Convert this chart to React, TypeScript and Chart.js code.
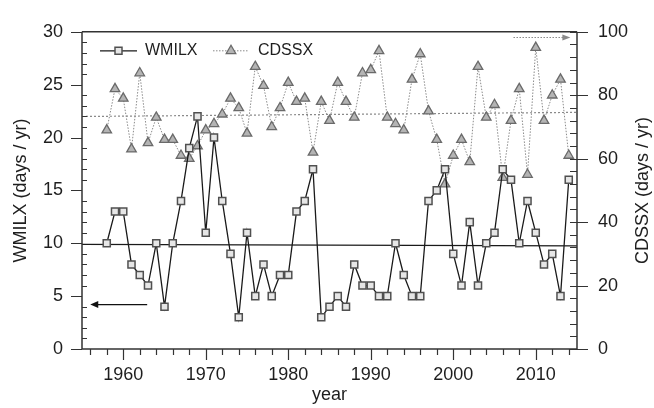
import React, { useEffect, useRef } from 'react';
import { Chart, registerables } from 'chart.js';

Chart.register(...registerables);

// ---------- data ----------
const years = [
  1958, 1959, 1960, 1961, 1962, 1963, 1964, 1965, 1966, 1967,
  1968, 1969, 1970, 1971, 1972, 1973, 1974, 1975, 1976, 1977,
  1978, 1979, 1980, 1981, 1982, 1983, 1984, 1985, 1986, 1987,
  1988, 1989, 1990, 1991, 1992, 1993, 1994, 1995, 1996, 1997,
  1998, 1999, 2000, 2001, 2002, 2003, 2004, 2005, 2006, 2007,
  2008, 2009, 2010, 2011, 2012, 2013, 2014,
];
const wmilx = [
  10, 13, 13, 8, 7, 6, 10, 4, 10, 14,
  19, 22, 11, 20, 14, 9, 3, 11, 5, 8,
  5, 7, 7, 13, 14, 17, 3, 4, 5, 4,
  8, 6, 6, 5, 5, 10, 7, 5, 5, 14,
  15, 17, 9, 6, 12, 6, 10, 11, 17, 16,
  10, 14, 11, 8, 9, 5, 16,
];
const cdssx = [
  69, 82, 79, 63, 87, 65, 73, 66, 66, 61,
  60, 64, 69, 71, 74, 79, 76, 68, 89, 83,
  70, 76, 84, 78, 79, 62, 78, 72, 84, 78,
  73, 87, 88, 94, 73, 71, 69, 85, 93, 75,
  66, 52, 61, 66, 59, 89, 73, 77, 54, 72,
  82, 55, 95, 72, 80, 85, 61,
];
const trendYears = [1955, 2015];
const wmilxTrend = [9.9, 9.75];
const cdssxTrend = [73.3, 74.6];

const xTickLabels = [1960, 1970, 1980, 1990, 2000, 2010];
const leftTickLabels = [0, 5, 10, 15, 20, 25, 30];
const rightTickLabels = [0, 20, 40, 60, 80, 100];

const seriesNames = ['WMILX', 'CDSSX'];
const axisTitles = { x: 'year', left: 'WMILX (days / yr)', right: 'CDSSX (days / yr)' };

// arrows pointing to the axis each series belongs to (data space)
const leftArrow = { fromYear: 1962.9, toYear: 1956.0, value: 4.2 };
const rightArrow = { fromYear: 2007.3, toYear: 2014.2, value: 98.2 };

// ---------- styles ----------
const FONT = '"Liberation Sans", Arial, Helvetica, sans-serif';
const TEXT = '#1e1e1e';
const AXIS = '#333333';
const LINE_W = '#1a1a1a';
const LINE_C = '#8a8a8a';
const SQ_EDGE = '#505050';
const SQ_FILL = '#e6e6e6';
const TR_EDGE = '#6a6a6a';
const TR_FILL = '#b4b4b4';

function drawSquare(ctx: CanvasRenderingContext2D, x: number, y: number) {
  ctx.save();
  ctx.fillStyle = SQ_FILL;
  ctx.strokeStyle = SQ_EDGE;
  ctx.lineWidth = 1.5;
  ctx.setLineDash([]);
  ctx.beginPath();
  ctx.rect(x - 3.5, y - 3.5, 7, 7);
  ctx.fill();
  ctx.stroke();
  ctx.restore();
}
function drawTriangle(ctx: CanvasRenderingContext2D, x: number, y: number) {
  const r = 5.5;
  ctx.save();
  ctx.fillStyle = TR_FILL;
  ctx.strokeStyle = TR_EDGE;
  ctx.lineWidth = 1.3;
  ctx.setLineDash([]);
  ctx.beginPath();
  ctx.moveTo(x, y - r);
  ctx.lineTo(x + r * 0.866, y + r / 2);
  ctx.lineTo(x - r * 0.866, y + r / 2);
  ctx.closePath();
  ctx.fill();
  ctx.stroke();
  ctx.restore();
}

const framePlugin = {
  id: 'frame',
  afterDraw(chart: any) {
    const { ctx, chartArea: a, scales } = chart;
    const xs = scales.x;
    const yl = scales.y;
    const yr = scales.y1;
    ctx.save();
    ctx.strokeStyle = AXIS;
    ctx.lineWidth = 1.5;
    ctx.setLineDash([]);
    // frame
    ctx.beginPath();
    ctx.moveTo(a.left, a.top);
    ctx.lineTo(a.right, a.top);
    ctx.moveTo(a.left, a.top);
    ctx.lineTo(a.left, a.bottom);
    ctx.moveTo(a.right, a.top);
    ctx.lineTo(a.right, a.bottom);
    ctx.moveTo(a.left, a.bottom);
    ctx.lineTo(a.right, a.bottom);
    ctx.stroke();

    ctx.lineWidth = 1.2;
    ctx.beginPath();
    // left axis: minor every 1 inward, major every 5 outward
    for (let v = 0; v <= 30; v++) {
      const y = Math.round(yl.getPixelForValue(v)) + 0.5;
      if (v % 5 === 0) {
        ctx.moveTo(a.left - 11, y);
        ctx.lineTo(a.left, y);
      } else {
        ctx.moveTo(a.left, y);
        ctx.lineTo(a.left + 5, y);
      }
    }
    // right axis: minor every 4 inward, major every 20 outward
    for (let v = 0; v <= 100; v += 4) {
      const y = Math.round(yr.getPixelForValue(v)) + 0.5;
      ctx.moveTo(a.right - 7, y);
      ctx.lineTo(a.right, y);
    }
    for (let v = 0; v <= 100; v += 20) {
      const y = Math.round(yr.getPixelForValue(v)) + 0.5;
      ctx.moveTo(a.right, y);
      ctx.lineTo(a.right + 11, y);
    }
    // x axis: minor every 2 years, major every 10, both outward
    for (let yv = 1956; yv <= 2014; yv += 2) {
      const x = Math.round(xs.getPixelForValue(yv)) + 0.5;
      const len = yv % 10 === 0 ? 11 : 6;
      ctx.moveTo(x, a.bottom);
      ctx.lineTo(x, a.bottom + len);
    }
    ctx.stroke();

    // left arrow (solid)
    {
      const y = yl.getPixelForValue(leftArrow.value);
      const x0 = xs.getPixelForValue(leftArrow.fromYear);
      const x1 = xs.getPixelForValue(leftArrow.toYear);
      ctx.strokeStyle = '#111';
      ctx.fillStyle = '#111';
      ctx.lineWidth = 1.2;
      ctx.beginPath();
      ctx.moveTo(x0, y);
      ctx.lineTo(x1 + 6, y);
      ctx.stroke();
      ctx.beginPath();
      ctx.moveTo(x1, y);
      ctx.lineTo(x1 + 8, y - 3.5);
      ctx.lineTo(x1 + 8, y + 3.5);
      ctx.closePath();
      ctx.fill();
    }
    // right arrow (dotted)
    {
      const y = yr.getPixelForValue(rightArrow.value);
      const x0 = xs.getPixelForValue(rightArrow.fromYear);
      const x1 = xs.getPixelForValue(rightArrow.toYear);
      ctx.strokeStyle = LINE_C;
      ctx.fillStyle = LINE_C;
      ctx.lineWidth = 1.2;
      ctx.setLineDash([1.5, 1.5]);
      ctx.beginPath();
      ctx.moveTo(x0, y);
      ctx.lineTo(x1 - 6, y);
      ctx.stroke();
      ctx.setLineDash([]);
      ctx.beginPath();
      ctx.moveTo(x1, y);
      ctx.lineTo(x1 - 8, y - 3);
      ctx.lineTo(x1 - 8, y + 3);
      ctx.closePath();
      ctx.fill();
    }

    // legend
    {
      const ly = a.top + 19;
      const lx = a.left + 18;
      ctx.strokeStyle = LINE_W;
      ctx.lineWidth = 1.3;
      ctx.setLineDash([]);
      ctx.beginPath();
      ctx.moveTo(lx, ly);
      ctx.lineTo(lx + 37, ly);
      ctx.stroke();
      drawSquare(ctx, lx + 18.5, ly);
      ctx.fillStyle = TEXT;
      ctx.font = '16px ' + FONT;
      ctx.textAlign = 'left';
      ctx.textBaseline = 'middle';
      ctx.fillText(seriesNames[0], lx + 45, ly);

      const lx2 = lx + 113;
      ctx.strokeStyle = LINE_C;
      ctx.lineWidth = 1;
      ctx.setLineDash([1.5, 1.5]);
      ctx.beginPath();
      ctx.moveTo(lx2, ly);
      ctx.lineTo(lx2 + 36, ly);
      ctx.stroke();
      ctx.setLineDash([]);
      drawTriangle(ctx, lx2 + 18, ly);
      ctx.fillStyle = TEXT;
      ctx.fillText(seriesNames[1], lx2 + 45, ly);
    }

    // right axis title (reads bottom to top)
    ctx.save();
    ctx.translate(643, (a.top + a.bottom) / 2);
    ctx.rotate(-Math.PI / 2);
    ctx.fillStyle = TEXT;
    ctx.font = '18px ' + FONT;
    ctx.textAlign = 'center';
    ctx.textBaseline = 'middle';
    ctx.fillText(axisTitles.right, 0, 0);
    ctx.restore();

    ctx.restore();
  },
};

export default function App() {
  const ref = useRef<HTMLCanvasElement | null>(null);

  useEffect(() => {
    if (!ref.current) return;
    Chart.defaults.font.family = FONT;
    Chart.defaults.font.size = 18;
    Chart.defaults.color = TEXT;

    const chart = new Chart(ref.current, {
      type: 'line',
      data: {
        datasets: [
          {
            label: seriesNames[0],
            data: years.map((y, i) => ({ x: y, y: wmilx[i] })),
            yAxisID: 'y',
            borderColor: LINE_W,
            borderWidth: 1.3,
            pointStyle: 'rect',
            pointRadius: 5,
            pointBorderColor: SQ_EDGE,
            pointBackgroundColor: SQ_FILL,
            pointBorderWidth: 1.5,
            tension: 0,
          },
          {
            label: seriesNames[1],
            data: years.map((y, i) => ({ x: y, y: cdssx[i] })),
            yAxisID: 'y1',
            borderColor: LINE_C,
            borderWidth: 1,
            borderDash: [1.5, 1.5],
            pointStyle: 'triangle',
            pointRadius: 5.5,
            pointBorderColor: TR_EDGE,
            pointBackgroundColor: TR_FILL,
            pointBorderWidth: 1.3,
            tension: 0,
          },
          {
            label: seriesNames[0] + ' trend',
            data: trendYears.map((y, i) => ({ x: y, y: wmilxTrend[i] })),
            yAxisID: 'y',
            borderColor: LINE_W,
            borderWidth: 1.2,
            pointRadius: 0,
          },
          {
            label: seriesNames[1] + ' trend',
            data: trendYears.map((y, i) => ({ x: y, y: cdssxTrend[i] })),
            yAxisID: 'y1',
            borderColor: LINE_C,
            borderWidth: 1.2,
            borderDash: [2, 2],
            pointRadius: 0,
          },
        ],
      },
      options: {
        responsive: false,
        animation: false,
        devicePixelRatio: 1,
        layout: { padding: { top: 19, left: 0, right: 0, bottom: 0 } },
        plugins: {
          legend: { display: false },
          tooltip: { enabled: false },
        },
        scales: {
          x: {
            type: 'linear',
            min: 1955,
            max: 2015,
            grid: { display: false, drawTicks: false },
            border: { display: false },
            afterBuildTicks: (s: any) => {
              s.ticks = xTickLabels.map((v) => ({ value: v }));
            },
            afterFit: (s: any) => {
              s.height = 59;
            },
            ticks: {
              padding: 15,
              maxRotation: 0,
              autoSkip: false,
              callback: (v: any) => String(v),
              font: { size: 18 },
              color: TEXT,
            },
            title: {
              display: true,
              text: axisTitles.x,
              font: { size: 18 },
              color: TEXT,
              padding: { top: 0, bottom: 2 },
            },
          },
          y: {
            type: 'linear',
            position: 'left',
            min: 0,
            max: 30,
            grid: { display: false, drawTicks: false },
            border: { display: false },
            afterBuildTicks: (s: any) => {
              s.ticks = leftTickLabels.map((v) => ({ value: v }));
            },
            afterFit: (s: any) => {
              s.width = 82;
            },
            ticks: { padding: 19, font: { size: 18 }, color: TEXT },
            title: {
              display: true,
              text: axisTitles.left,
              font: { size: 18 },
              color: TEXT,
              padding: { top: 10.5, bottom: 0 },
            },
          },
          y1: {
            type: 'linear',
            position: 'right',
            min: 0,
            max: 100,
            grid: { display: false, drawTicks: false },
            border: { display: false },
            afterBuildTicks: (s: any) => {
              s.ticks = rightTickLabels.map((v) => ({ value: v }));
            },
            afterFit: (s: any) => {
              s.width = 77;
            },
            ticks: { padding: 21, font: { size: 18 }, color: TEXT },
          },
        },
      },
      plugins: [framePlugin],
    });
    return () => chart.destroy();
  }, []);

  return (
    <div style={{ position: 'fixed', left: 0, top: 0, width: 654, height: 408, background: '#fff' }}>
      <canvas ref={ref} width={654} height={408} style={{ display: 'block', width: 654, height: 408 }} />
    </div>
  );
}
